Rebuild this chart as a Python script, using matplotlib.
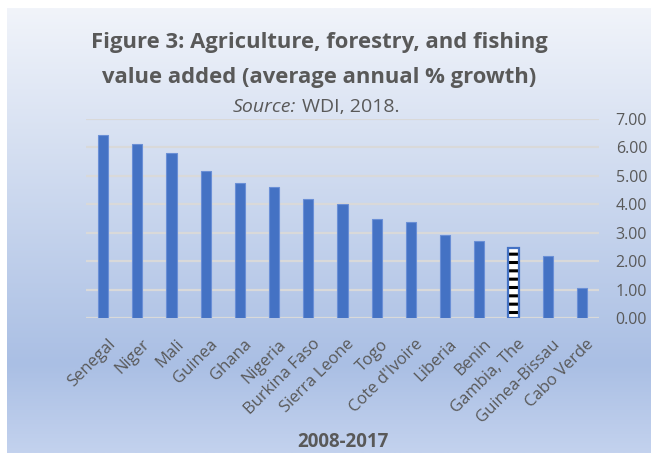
import numpy as np
import matplotlib
matplotlib.use("Agg")
import matplotlib.pyplot as plt
import matplotlib.transforms as mtransforms
from matplotlib.colors import LinearSegmentedColormap

plt.rcParams['font.family'] = ['Open Sans', 'DejaVu Sans']
plt.rcParams['hatch.linewidth'] = 2.2

countries = ["Senegal", "Niger", "Mali", "Guinea", "Ghana", "Nigeria",
             "Burkina Faso", "Sierra Leone", "Togo", "Cote d'Ivoire",
             "Liberia", "Benin", "Gambia, The", "Guinea-Bissau", "Cabo Verde"]
growth = [6.44, 6.10, 5.79, 5.16, 4.75, 4.61, 4.18, 4.01, 3.50, 3.37,
          2.92, 2.71, 2.46, 2.18, 1.05]
highlight = "Gambia, The"
yticks = [0, 1, 2, 3, 4, 5, 6, 7]

W, H = 651, 453
fig = plt.figure(figsize=(W / 100, H / 100), dpi=100)
fig.patch.set_facecolor('white')

# chart-area gradient background
bg = fig.add_axes([7 / W, 0, 1 - 7 / W, (H - 8) / H], zorder=0)
grad = LinearSegmentedColormap.from_list(
    "bg", [(0.0, "#f1f4fa"), (0.80, "#aabfe4"), (1.0, "#c3d2ee")])
bg.imshow(np.linspace(0, 1, 256)[:, None], aspect='auto', cmap=grad,
          extent=[0, 1, 0, 1])
bg.set_axis_off()

gray = "#595959"
ax = fig.add_axes([86 / W, (H - 318.3) / H, (599 - 86) / W, (318.3 - 118.7) / H],
                  zorder=1)
ax.set_facecolor('none')
x = np.arange(len(countries))
for xi, name, val in zip(x, countries, growth):
    if name == highlight:
        # white bar with black dashed hatching and a blue outline
        ax.bar(xi, val, width=0.3, facecolor='white', edgecolor='black',
               linewidth=0, hatch='--', zorder=3)
        ax.bar(xi, val, width=0.3, facecolor='none', edgecolor='#4472c4',
               linewidth=1.6, zorder=4)
    else:
        ax.bar(xi, val, width=0.3, color='#4472c4', edgecolor='#6a8fd6',
               linewidth=0.8, zorder=3)

ax.set_xlim(-0.5, len(countries) - 0.5)
ax.set_ylim(0, 7)
ax.set_yticks(yticks)
ax.set_yticklabels([f"{t:.2f}" for t in yticks])
ax.yaxis.tick_right()
ax.grid(axis='y', color='#d9d9d9', linewidth=1.6, zorder=0)
for s in ax.spines.values():
    s.set_visible(False)
ax.tick_params(axis='y', length=0, pad=12, labelsize=11.5, labelcolor=gray)
ax.tick_params(axis='x', length=0, pad=13, labelsize=12, labelcolor=gray)
ax.set_xticks(x)
ax.set_xticklabels(countries, rotation=45, ha='right', rotation_mode='anchor')
shift = mtransforms.ScaledTranslation(4 / 100, 0, fig.dpi_scale_trans)
for lbl in ax.get_xticklabels():
    lbl.set_transform(lbl.get_transform() + shift)

fig.text(319 / W, 1 - 48 / H, "Figure 3: Agriculture, forestry, and fishing",
         ha='center', va='baseline', fontsize=15.8, fontweight='bold', color=gray)
fig.text(319 / W, 1 - 83 / H, "value added (average annual % growth)",
         ha='center', va='baseline', fontsize=15.8, fontweight='bold', color=gray)
fig.text(296 / W, 1 - 112 / H, "Source:", ha='right', va='baseline',
         fontsize=14, style='italic', color=gray)
fig.text(302 / W, 1 - 112 / H, "WDI, 2018.", ha='left', va='baseline',
         fontsize=14, color=gray)
fig.text(343 / W, 1 - 447 / H, "2008-2017", ha='center', va='baseline',
         fontsize=13.5, fontweight='bold', color=gray)

fig.savefig("out.png", dpi=100)
